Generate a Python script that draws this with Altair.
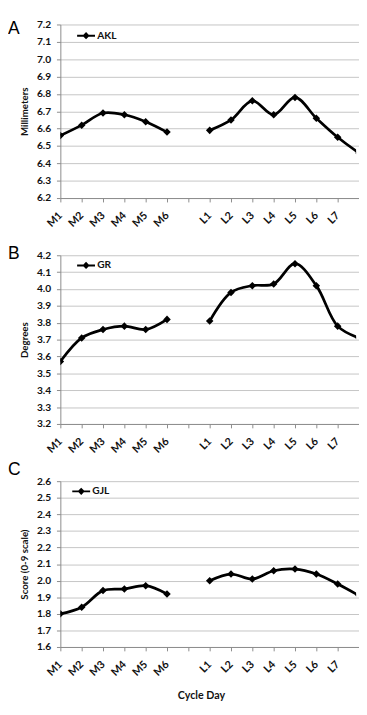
import altair as alt
import pandas as pd

# ---- data ----
days_m = ["M1", "M2", "M3", "M4", "M5", "M6"]
days_l = ["L1", "L2", "L3", "L4", "L5", "L6", "L7", "L8"]
gap_slot = [" "]

akl_mm = [6.56, 6.62, 6.69, 6.68, 6.64, 6.58, 6.59, 6.65, 6.76, 6.68, 6.78, 6.66, 6.55, 6.46]
gr_deg = [3.57, 3.71, 3.76, 3.78, 3.76, 3.82, 3.81, 3.98, 4.02, 4.03, 4.15, 4.02, 3.78, 3.71]
gjl_score = [1.80, 1.84, 1.94, 1.95, 1.97, 1.92, 2.00, 2.04, 2.01, 2.06, 2.07, 2.04, 1.98, 1.91]

panel_letters = ["A", "B", "C"]
series_names = ["AKL", "GR", "GJL"]
y_titles = ["Millimeters", "Degrees", "Score (0-9 scale)"]
y_ranges = [(6.2, 7.2), (3.2, 4.2), (1.6, 2.6)]
x_title = "Cycle Day"

FONT = "Lato"
GRID = "#c4c4c4"
AXIS = "#8a8a8a"
LEGEND_PATH = "M-1,-0.11L1,-0.11L1,0.11L-1,0.11Z M0,-0.4L0.4,0L0,0.4L-0.4,0Z"

x_domain = days_m + gap_slot + days_l
x_axis_values = days_m + gap_slot + days_l[:-1]
all_days = days_m + days_l
segments = ["M"] * len(days_m) + ["L"] * len(days_l)


def panel(idx, values, height, letter_y, legend_x, legend_y, show_x_title):
    name = series_names[idx]
    ymin, ymax = y_ranges[idx]
    df = pd.DataFrame({"day": all_days, "value": values, "seg": segments, "measure": name})
    yvals = [round(ymin + i * 0.1, 1) for i in range(11)]

    x_axis_kw = dict(
        values=x_axis_values, labelAngle=-45, labelAlign="right", labelBaseline="middle",
        labelPadding=12, tickSize=4, tickColor=AXIS, domainColor=AXIS, grid=False,
        labelFont=FONT, labelFontSize=11, labelFontWeight="bold", labelColor="#111",
        title=x_title if show_x_title else None,
    )
    if show_x_title:
        x_axis_kw.update(
            titleFont=FONT, titleFontSize=11, titleFontWeight="bold", titleColor="#111",
            titleY=53, titleX=145, titleBaseline="alphabetic",
        )
    x = alt.X(
        "day:O",
        scale=alt.Scale(type="point", domain=x_domain, range=[0, 308], padding=0),
        axis=alt.Axis(**x_axis_kw),
    )
    y = alt.Y(
        "value:Q",
        scale=alt.Scale(domain=[ymin, ymax], nice=False, zero=False),
        axis=alt.Axis(
            values=yvals, format=".1f", title=y_titles[idx], grid=True, gridColor=GRID,
            tickSize=4, tickColor=AXIS, domainColor=AXIS, labelPadding=6,
            labelFont=FONT, labelFontSize=10.5, labelFontWeight="bold", labelColor="#111",
            titleFont=FONT, titleFontSize=10, titleFontWeight="bold", titleColor="#111",
            titlePadding=7,
        ),
    )
    base = alt.Chart(df)
    line = base.mark_line(interpolate="catmull-rom", color="black", strokeWidth=2.8, clip=True).encode(
        x=x, y=y, detail="seg:N"
    )
    pts = base.mark_point(shape="diamond", filled=True, size=60, opacity=1, clip=True).encode(
        x=x, y=y,
        color=alt.Color(
            "measure:N", scale=alt.Scale(range=["black"]),
            legend=alt.Legend(
                orient="none", legendX=legend_x, legendY=legend_y, title=None, padding=0,
                symbolType=LEGEND_PATH, symbolSize=340, symbolOpacity=1,
                symbolFillColor="black", symbolStrokeWidth=0,
                labelFont=FONT, labelFontSize=10.5, labelFontWeight="bold", labelColor="#111",
                labelOffset=2,
            ),
        ),
    )
    lab = alt.Chart(pd.DataFrame({"t": [panel_letters[idx]]})).mark_text(
        align="left", baseline="alphabetic", fontSize=18, font="Liberation Sans",
        color="black", x=-54, y=letter_y,
    ).encode(text="t:N")
    return alt.layer(line, pts, lab).properties(width=305, height=height)


pA = panel(0, akl_mm, 179, 10, 17, 2, False)
pB = panel(1, gr_deg, 174, 4, 17, 1, False)
pC = panel(2, gjl_score, 171, -6, 12, 1, True)

chart = (
    alt.vconcat(pA, pB, pC, spacing=59, bounds="flush")
    .resolve_scale(color="independent")
    .resolve_legend(color="independent")
    .properties(padding={"left": 0, "top": 1, "right": 0, "bottom": 0}, background="white")
    .configure_view(stroke=None)
)

chart.save("out.html", embed_options={"renderer": "svg", "actions": False})
